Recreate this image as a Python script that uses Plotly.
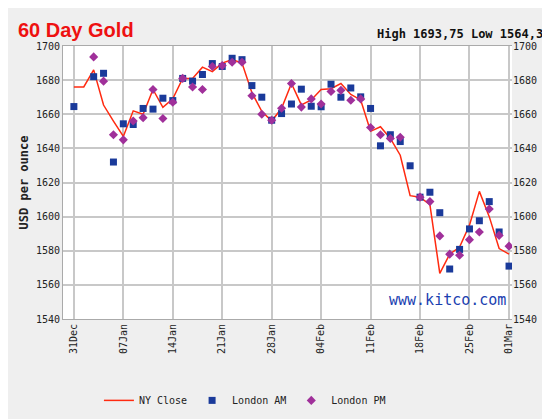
import plotly.graph_objects as go

dates = ["31Dec", "01Jan", "02Jan", "03Jan", "04Jan",
         "07Jan", "08Jan", "09Jan", "10Jan", "11Jan",
         "14Jan", "15Jan", "16Jan", "17Jan", "18Jan",
         "21Jan", "22Jan", "23Jan", "24Jan", "25Jan",
         "28Jan", "29Jan", "30Jan", "31Jan", "01Feb",
         "04Feb", "05Feb", "06Feb", "07Feb", "08Feb",
         "11Feb", "12Feb", "13Feb", "14Feb", "15Feb",
         "18Feb", "19Feb", "20Feb", "21Feb", "22Feb",
         "25Feb", "26Feb", "27Feb", "28Feb", "01Mar"]
ny_close = [1676, 1676, 1686, 1665.4, 1656, 1647, 1662, 1660, 1674.5, 1664,
            1669, 1681, 1681, 1687.6, 1685, 1690, 1692, 1690, 1672.6, 1661.7,
            1656, 1663.5, 1678, 1665.5, 1668.4, 1674.5, 1675, 1678, 1671.6, 1668.4,
            1650, 1652.7, 1645.8, 1636, 1612.3, 1611.4, 1607, 1566.7, 1578, 1582.2,
            1595, 1614.8, 1600, 1581.3, 1578]
london_am = [1664.5, None, 1682, 1684, 1632, 1654.4, 1654, 1663.4, 1663, 1669.4,
             1668, 1681, 1679.4, 1683.3, 1689.7, 1688, 1692.8, 1692, 1676.8, 1670,
             1656.5, 1660.4, 1666, 1674.7, 1664.7, 1664.4, 1677.6, 1670, 1675.4, 1670.2,
             1663.4, 1641.5, 1648, 1644, 1629.8, 1611.4, 1614.3, 1602.3, 1569.3, 1580.8,
             1592.8, 1597.6, 1608.8, 1591, 1571]
london_pm = [None, None, 1693.6, 1679.4, 1648, 1645, 1656, 1658, 1674.5, 1657.5,
             1667, 1681, 1676, 1674.5, 1688, 1688.5, 1690.5, 1690.5, 1670.8, 1660,
             1656.5, 1663.5, 1678, 1664.2, 1669, 1666, 1673.3, 1674, 1668.2, 1669,
             1652.2, 1648, 1645.8, 1646.5, None, 1611.4, 1608.8, 1588.7, 1578, 1577.4,
             1586.5, 1591, 1604.5, 1589, 1582.7]
tick_labels = ["31Dec", "07Jan", "14Jan", "21Jan", "28Jan", "04Feb", "11Feb", "18Feb", "25Feb", "01Mar"]

x = list(range(len(dates)))
tick_pos = [dates.index(t) for t in tick_labels]
mono = "DejaVu Sans Mono"

fig = go.Figure()
fig.add_trace(go.Scatter(x=x, y=ny_close, mode="lines", name="NY Close",
                         line=dict(color="#ff2a10", width=1.5)))
fig.add_trace(go.Scatter(x=x, y=london_am, mode="markers", name="London AM",
                         marker=dict(symbol="square", size=7, color="#1a3a9a")))
fig.add_trace(go.Scatter(x=x, y=london_pm, mode="markers", name="London PM",
                         marker=dict(symbol="diamond", size=7, color="#a0309a")))
# invisible copy on the right axis
fig.add_trace(go.Scatter(x=x, y=ny_close, yaxis="y2", mode="lines",
                         line=dict(width=0), showlegend=False, hoverinfo="skip"))

axis_font = dict(family=mono, size=10, color="#222")
fig.update_layout(
    width=550, height=419,
    margin=dict(l=55, r=46, t=38, b=68),
    paper_bgcolor="#efefef", plot_bgcolor="white",
    font=dict(family=mono, color="#222"),
    xaxis=dict(tickmode="array", tickvals=tick_pos, ticktext=tick_labels, tickangle=-90,
               range=[-1.1, 44.3], showgrid=True, gridcolor="#c8c8c8", gridwidth=2,
               zeroline=False, tickfont=axis_font, showline=True, linecolor="#aaa", mirror=True),
    yaxis=dict(range=[1540, 1700], dtick=20, showgrid=True, gridcolor="#c8c8c8", gridwidth=2,
               zeroline=False, tickfont=axis_font, showline=True, linecolor="#aaa",
               title=dict(text="<b>USD per ounce</b>", font=dict(family=mono, size=12), standoff=4)),
    yaxis2=dict(range=[1540, 1700], dtick=20, overlaying="y", side="right",
                showgrid=False, zeroline=False, tickfont=axis_font),
    legend=dict(orientation="h", x=0.08, y=-0.245, xanchor="left", yanchor="top",
                font=dict(family=mono, size=10), bgcolor="rgba(0,0,0,0)"),
    showlegend=True,
)
fig.add_annotation(text="<b>60 Day Gold</b>", xref="paper", yref="paper", x=-0.105, y=1.01,
                   xanchor="left", yanchor="bottom", showarrow=False,
                   font=dict(family="Liberation Sans Narrow, Liberation Sans", size=20, color="#ee1111"))
fig.add_annotation(text="<b>High 1693,75 Low 1564,30</b>", xref="paper", yref="paper", x=1.09, y=1.01,
                   xanchor="right", yanchor="bottom", showarrow=False,
                   font=dict(family=mono, size=12, color="#111"))
fig.add_annotation(text="www.kitco.com", xref="paper", yref="paper", x=0.99, y=0.03,
                   xanchor="right", yanchor="bottom", showarrow=False,
                   font=dict(family=mono, size=15, color="#1a40b0"))

fig.write_html("out.html")
